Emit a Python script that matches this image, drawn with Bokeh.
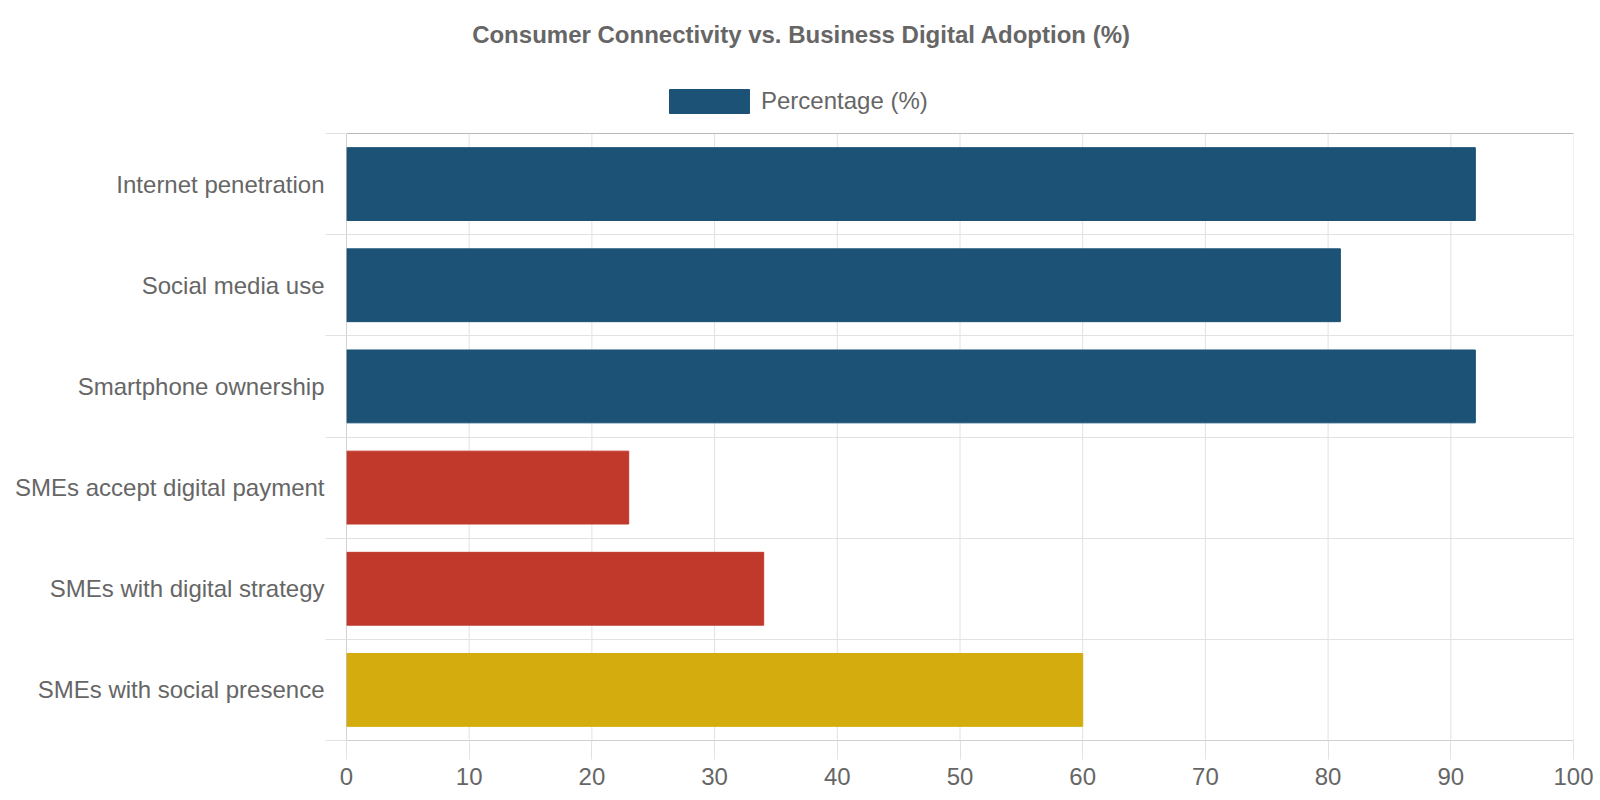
from bokeh.plotting import figure
from bokeh.models import (Range1d, FixedTicker, Label, Legend, LegendItem,
                          ColumnDataSource)
from bokeh.embed import file_html
from bokeh.resources import INLINE

# ---- data ----
categories = ["Internet penetration", "Social media use", "Smartphone ownership",
              "SMEs accept digital payment", "SMEs with digital strategy",
              "SMEs with social presence"]
values = [92, 81, 92, 23, 34, 60]
bar_colors = ["#1B5276", "#1B5276", "#1B5276", "#C0392B", "#C0392B", "#D4AC0D"]
title_text = "Consumer Connectivity vs. Business Digital Adoption (%)"
series_name = "Percentage (%)"
x_ticks = [0, 10, 20, 30, 40, 50, 60, 70, 80, 90, 100]

FONT = "Liberation Sans"
TXT = "#666666"
GRID = "#e2e2e2"

W, H = 1600, 800
PLOT_TOP, PLOT_BOTTOM = 133, 740   # pixel rows of the category area
n = len(categories)
ypos = [n - i for i in range(n)]
y_lo, y_hi = 0.5, n + 0.5
unit_px = (PLOT_BOTTOM - PLOT_TOP) / (y_hi - y_lo)
y_top = y_hi + PLOT_TOP / unit_px          # frame extends up to canvas top

source = ColumnDataSource(dict(cat=categories, y=ypos, value=values, color=bar_colors))

p = figure(width=W, height=H, output_backend="svg", toolbar_location=None,
           title=None,
           x_range=Range1d(x_ticks[0], x_ticks[-1]), y_range=Range1d(y_lo, y_top),
           min_border_left=346, min_border_right=27, min_border_top=0,
           min_border_bottom=H - PLOT_BOTTOM)
p.outline_line_color = None
p.background_fill_color = "white"
p.xgrid.visible = False

# vertical grid lines limited to the category area
p.segment(x0=x_ticks, y0=[y_lo] * len(x_ticks), x1=x_ticks, y1=[y_hi] * len(x_ticks),
          line_color=GRID, line_width=1)

bars = p.hbar(y="y", left=0, right="value", height=0.72, fill_color="color",
              line_color="color", source=source)

# top border and y-axis line
p.segment(x0=[x_ticks[0]], y0=[y_hi], x1=[x_ticks[-1]], y1=[y_hi],
          line_color="#bbbbbb", line_width=1)
p.segment(x0=[x_ticks[0]], y0=[y_lo], x1=[x_ticks[0]], y1=[y_hi],
          line_color="#b3b3b3", line_width=1)

legend = Legend(items=[LegendItem(label=series_name, renderers=[bars], index=0)],
                location=(313, 624), orientation="horizontal",
                glyph_width=100, glyph_height=30, label_standoff=2,
                padding=0, margin=0, spacing=0, border_line_color=None,
                background_fill_alpha=0, label_text_font=FONT,
                label_text_font_size="24px", label_text_color=TXT)
p.add_layout(legend, "center")

# title
p.add_layout(Label(x=801 - 346, y=PLOT_BOTTOM - 34, x_units="screen", y_units="screen",
                   text=title_text, text_align="center", text_baseline="alphabetic",
                   text_font=FONT, text_font_style="bold", text_font_size="24px",
                   text_color=TXT))

# y axis
ya = p.yaxis[0]
ya.ticker = FixedTicker(ticks=ypos, minor_ticks=[k + 0.5 for k in range(n + 1)])
ya.major_label_overrides = {y: c for y, c in zip(ypos, categories)}
ya.major_tick_out = 0
ya.major_tick_in = 0
ya.major_tick_line_color = None
ya.minor_tick_out = 21
ya.minor_tick_in = 0
ya.minor_tick_line_color = GRID
ya.axis_line_color = None
ya.major_label_standoff = 1
ya.major_label_text_font = FONT
ya.major_label_text_font_size = "24px"
ya.major_label_text_color = TXT

p.ygrid.grid_line_color = None
p.ygrid.minor_grid_line_color = GRID

# x axis
xa = p.xaxis[0]
xa.ticker = FixedTicker(ticks=x_ticks)
xa.major_tick_out = 19
xa.major_tick_in = 0
xa.major_tick_line_color = GRID
xa.minor_tick_line_color = None
xa.axis_line_color = "#cfcfcf"
xa.major_label_standoff = 8
xa.major_label_text_font = FONT
xa.major_label_text_font_size = "24px"
xa.major_label_text_color = TXT

open("out.html", "w").write(file_html(p, INLINE))
